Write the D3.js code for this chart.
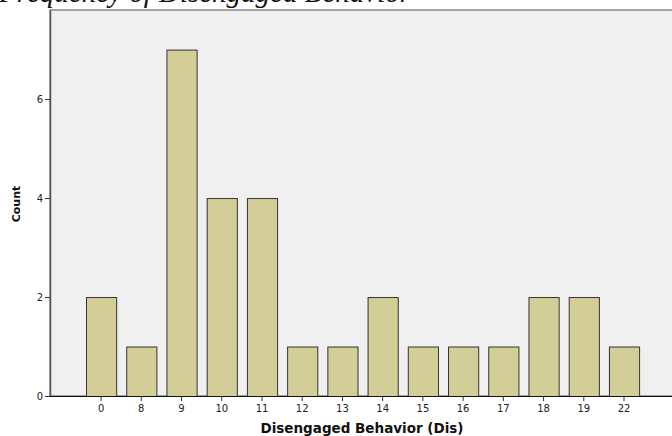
<!DOCTYPE html>
<html>
<head>
<meta charset="utf-8">
<script src="https://cdn.jsdelivr.net/npm/d3@7"></script>
<style>
  body { margin: 0; background: #fff; }
  svg { display: block; }
</style>
</head>
<body>
<div id="chart"></div>
<script>
// values
var categories = ["0", "8", "9", "10", "11", "12", "13", "14", "15", "16", "17", "18", "19", "22"];
var counts = [2, 1, 7, 4, 4, 1, 1, 2, 1, 1, 1, 2, 2, 1];
var yTicks = [0, 2, 4, 6];

var width = 672;
var height = 436;

var svg = d3.select("#chart")
    .append("svg")
    .attr("width", width)
    .attr("height", height);

// title, cut off at the top in the original
svg.append("text")
    .attr("x", -1)
    .attr("y", 1.5)
    .text("Frequency of Disengaged Behavior")
    .style("font-family", "Liberation Serif, Times New Roman, serif")
    .style("font-style", "italic")
    .style("font-size", "29px")
    .attr("fill", "#111");

// plot frame
var plotLeft = 50, plotTop = 10, plotBottom = 396;

svg.append("rect")
    .attr("x", plotLeft)
    .attr("y", plotTop)
    .attr("width", width - plotLeft + 5)
    .attr("height", plotBottom - plotTop)
    .attr("fill", "#f0f0f0")
    .attr("stroke", "#888")
    .attr("stroke-width", 1.5);

var x = d3.scaleBand()
    .domain(categories)
    .range([86, 639.1])
    .paddingInner(0.25)
    .paddingOuter(0);

var y = d3.scaleLinear()
    .domain([0, 7.8])
    .range([plotBottom, plotTop]);

// bars
svg.append("g")
    .selectAll("rect")
    .data(counts)
    .enter()
    .append("rect")
    .attr("x", function (d, i) { return x(categories[i]) + 0.5; })
    .attr("y", function (d) { return y(d) + 0.5; })
    .attr("width", x.bandwidth())
    .attr("height", function (d) { return plotBottom - y(d); })
    .attr("fill", "#d3ce98")
    .attr("stroke", "#333")
    .attr("stroke-width", 1);

// Y axis
var yAxis = svg.append("g")
    .attr("transform", "translate(" + plotLeft + ",0)")
    .call(d3.axisLeft(y).tickValues(yTicks).tickSize(5).tickSizeOuter(0).tickPadding(2));
yAxis.select(".domain").attr("stroke", "#555").attr("stroke-width", 1.5);
yAxis.selectAll(".tick line").attr("stroke", "#333");
yAxis.selectAll("text")
    .style("font-family", "DejaVu Sans, Verdana, sans-serif")
    .style("font-size", "10px")
    .attr("fill", "#222");

// X axis
var xAxis = svg.append("g")
    .attr("transform", "translate(0," + plotBottom + ")")
    .call(d3.axisBottom(x).tickSize(5).tickSizeOuter(0).tickPadding(4));
xAxis.select(".domain").remove();
svg.append("line")
    .attr("x1", plotLeft)
    .attr("x2", width)
    .attr("y1", plotBottom + 0.5)
    .attr("y2", plotBottom + 0.5)
    .attr("stroke", "#111")
    .attr("stroke-width", 1.2);
xAxis.selectAll(".tick line").attr("stroke", "#333");
xAxis.selectAll("text")
    .style("font-family", "DejaVu Sans, Verdana, sans-serif")
    .style("font-size", "10px")
    .attr("fill", "#222");

// X label
svg.append("text")
    .attr("x", 362)
    .attr("y", 433)
    .attr("text-anchor", "middle")
    .text("Disengaged Behavior (Dis)")
    .style("font-family", "DejaVu Sans, Verdana, sans-serif")
    .style("font-weight", "bold")
    .style("font-size", "13.5px")
    .attr("fill", "#111");

// Y label
svg.append("text")
    .attr("transform", "rotate(-90)")
    .attr("x", -204)
    .attr("y", 20)
    .attr("text-anchor", "middle")
    .text("Count")
    .style("font-family", "DejaVu Sans, Verdana, sans-serif")
    .style("font-weight", "bold")
    .style("font-size", "11px")
    .attr("fill", "#111");
</script>
</body>
</html>
